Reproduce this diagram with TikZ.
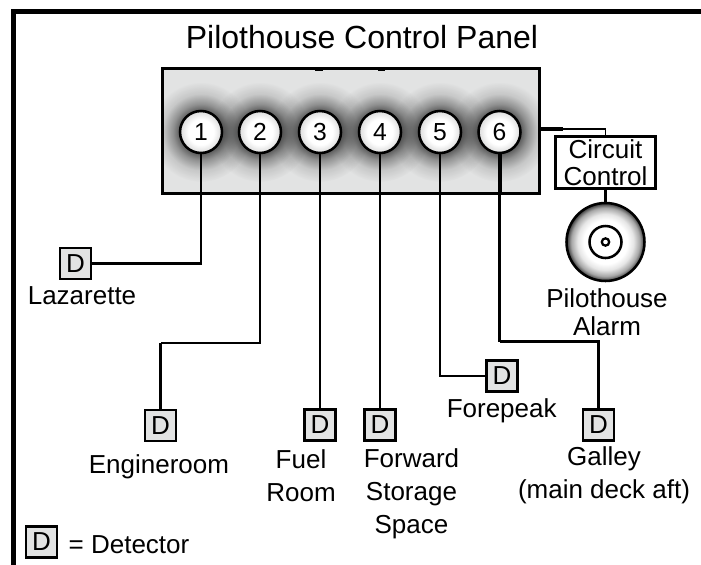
\documentclass[tikz,border=0pt]{standalone}
\usepackage{fontspec}
\setmainfont{Liberation Sans}
\usetikzlibrary{fadings}
\definecolor{panelgray}{RGB}{226,227,227}
\pgfdeclareradialshading{glowmask}{\pgfpoint{0bp}{0bp}}{color(0bp)=(white); color(10.5bp)=(white!60!black); color(14bp)=(white!36!black); color(19bp)=(white!12!black); color(25bp)=(black)}
\pgfdeclarefading{glowfade}{\pgfuseshading{glowmask}}
\pgfdeclareradialshading{buttonface}{\pgfpoint{0bp}{0bp}}{color(0bp)=(white); color(15bp)=(white); color(25bp)=(black!14)}
\pgfdeclareradialshading{alarmface}{\pgfpoint{0bp}{0bp}}{color(0bp)=(white); color(14bp)=(white); color(18bp)=(black!10); color(22bp)=(black!35); color(25bp)=(black!80)}
\tikzset{
  wire/.style={line width=1.9pt, line cap=square},
  thinwire/.style={line width=1.2pt},
  heavywire/.style={line width=3pt},
  vh/.style={to path={|- (\tikztotarget)}},
  hv/.style={to path={-| (\tikztotarget)}},
  detect/.style={draw, line width=1.9pt, fill=panelgray, minimum size=23pt, inner sep=0pt, font=\fontsize{19.5}{20}\selectfont},
}
\begin{document}
\begin{tikzpicture}[x=0.75pt,y=-0.75pt]
\useasboundingbox (0,0) rectangle (701,565);
\draw [line width=4.1pt, miter limit=10] (13.5,565) -- (13.5,11.5) -- (701,11.5);
\node (title) at (362,48) [anchor=base, inner sep=0pt] {\fontsize{24}{26}\selectfont Pilothouse Control Panel};
\node (panel) at (351,131) [draw, line width=1.9pt, fill=panelgray, minimum width=283pt, minimum height=94pt] {};
 \begin{scope}
  \clip (162,68) rectangle (540,194);
  \fill [black, path fading=glowfade] (201,132) circle [radius=50];
  \fill [black, path fading=glowfade] (260,132) circle [radius=50];
  \fill [black, path fading=glowfade] (320,132) circle [radius=50];
  \fill [black, path fading=glowfade] (380,132) circle [radius=50];
  \fill [black, path fading=glowfade] (440,132) circle [radius=50];
  \fill [black, path fading=glowfade] (499.5,132) circle [radius=50];
 \end{scope}
 \draw [line width=3pt] (315,68.5) -- (323,68.5);
 \draw [line width=3pt] (377.5,68.5) -- (384.5,68.5);
  \begin{scope}[every node/.style={circle, draw, line width=1.9pt, shading=buttonface, minimum size=31.5pt, inner sep=0pt, font=\fontsize{18.5}{20}\selectfont}]
  \node (1) at (201,132) {1};
  \node (2) at (260,132) {2};
  \node (3) at (320,132) {3};
  \node (4) at (380,132) {4};
  \node (5) at (440,132) {5};
  \node (6) at (499.5,132) {6};
 \end{scope}
 \begin{scope}[every node/.style={detect}]
  \node (1d) at (75.5,263.5) {D};
  \node (2d) at (160.5,425.5) {D};
  \node (3d) at (320,425) {D};
  \node (4d) at (380,425) {D};
  \node (5d) at (502,376) {D};
  \node (6d) at (598.5,425) {D};
  \node (keyd) at (41.5,542) {D};
 \end{scope}
 \begin{scope}[every node/.style={align=center, anchor=base, inner sep=0pt, font=\fontsize{19.5}{24.5}\selectfont}]
  \node (1l) at (82,304) {Lazarette};
  \node (2l) at (159,473) {Engineroom};
  \node (3l) at (301,501) {Fuel\\Room};
  \node (4l) at (411.5,533) {Forward\\Storage\\Space};
  \node (5l) at (501.7,417) {Forepeak};
  \node (6l) at (604,498) {Galley\\(main deck aft)};
  \node (alarml) at (607,335) [font=\fontsize{19.5}{20.5}\selectfont] {Pilothouse\\Alarm};
  \node (keyl) at (129,553) {= Detector};
 \end{scope}
 \node (cc) at (605.5,162.5) [draw, line width=1.9pt, fill=white, align=center, minimum width=75pt, minimum height=39pt, inner sep=0pt, font=\fontsize{19.5}{20.5}\selectfont] {Circuit\\Control};
 \node (alarm) at (605.5,242) [circle, draw, line width=1.9pt, shading=alarmface, minimum size=58.5pt, inner sep=0pt] {};
 \node (horn) at (605.5,242) [circle, draw, line width=1.9pt, fill=white, minimum size=24pt, inner sep=0pt] {};
 \node (pin) at (605.5,242) [circle, draw, line width=1.7pt, fill=white, minimum size=5.5pt, inner sep=0pt] {};
 \coordinate (2a) at (160.5,343);
 \coordinate (6a) at (499.5,195);
 \coordinate (6b) at (499.5,341.5);
 \coordinate (pr) at (541,129);
 \coordinate (pm) at (563,129);
  \path [-,wire] (1) edge[vh] (1d);
  \path [-,wire] (2) edge[vh] (2a);
  \path [-,wire] (2a) edge (2d);
  \path [-,wire] (3) edge (3d);
  \path [-,wire] (4) edge (4d);
  \path [-,wire] (5) edge[vh] (5d);
  \path [-,heavywire] (6) edge (6a);
  \path [-,wire] (6a) edge (6b);
  \path [-,wire] (6b) edge[hv] (6d);
  \path [-,heavywire] (pr) edge (pm);
  \path [-,thinwire] (pm) edge[hv] (cc);
  \path [-,wire] (cc) edge (alarm);
 \end{tikzpicture}
\end{document}
